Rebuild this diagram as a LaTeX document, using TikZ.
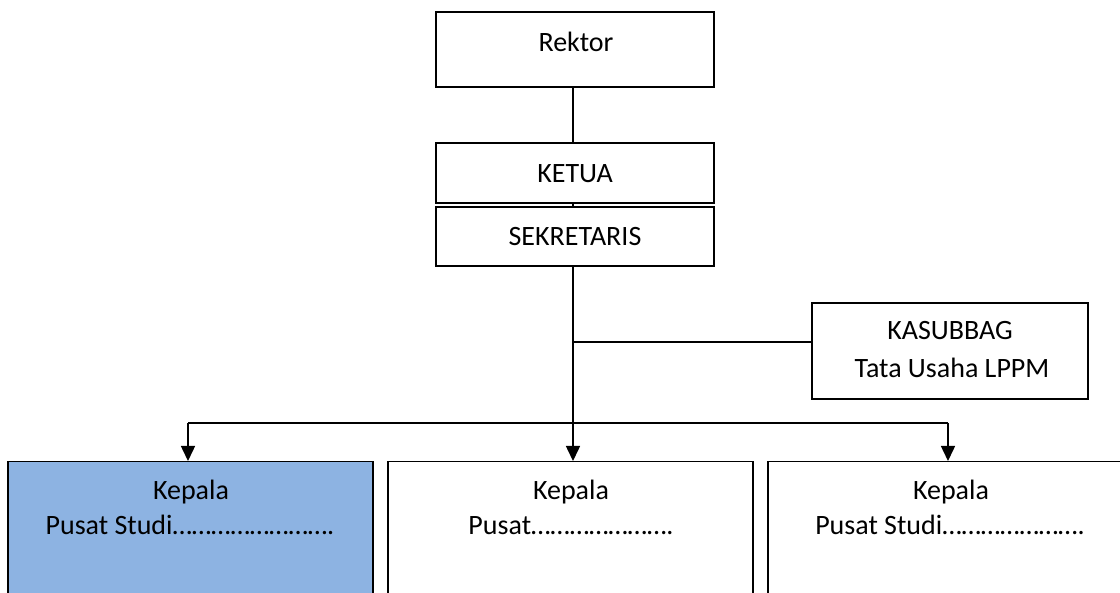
\documentclass[tikz,border=0pt]{standalone}
\usepackage{fontspec}
\setmainfont{Carlito}
\usetikzlibrary{arrows.meta}
\definecolor{boxblue}{HTML}{8DB3E2}
\begin{document}
\begin{tikzpicture}[x=1pt,y=-1pt,
  box/.style={draw=black,line width=1.5pt,inner sep=0pt,rectangle},
  lbl/.style={font=\fontsize{28}{34}\selectfont,inner sep=0pt,anchor=base},
  link/.style={line width=1.5pt},
  arr/.style={line width=1.5pt,-{Triangle[width=14pt,length=15pt]}}]
\useasboundingbox (0,0) rectangle (1120,593);
\clip (0,0) rectangle (1120,593);
% boxes
\node[box,minimum width=278pt,minimum height=75pt] (rektor) at (575,49.5) {};
\node[box,minimum width=278pt,minimum height=60pt] (ketua) at (575,173) {};
\node[box,minimum width=278pt,minimum height=59pt] (sekr) at (575,236.5) {};
\node[box,minimum width=276pt,minimum height=96pt] (kas) at (950,351) {};
\node[box,fill=boxblue,minimum width=365pt,minimum height=160pt,anchor=north] (b1) at (190.5,461) {};
\node[box,minimum width=365pt,minimum height=160pt,anchor=north] (b2) at (570.5,461) {};
\node[box,minimum width=365pt,minimum height=160pt,anchor=north] (b3) at (950.5,461) {};
% texts
\node[lbl] (tRektor) at (576,52) {Rektor};
\node[lbl] (tKetua) at (575,183) {KETUA};
\node[lbl] (tSekr) at (575,246) {SEKRETARIS};
\node[lbl] (tKasA) at (950,340) {KASUBBAG};
\node[lbl] (tKasB) at (952,378) {Tata Usaha LPPM};
\node[lbl] (t1a) at (191,500) {Kepala};
\node[lbl] (t1b) at (190,535) {Pusat Studi…………………….};
\node[lbl] (t2a) at (571,500) {Kepala};
\node[lbl] (t2b) at (571,535) {Pusat………………….};
\node[lbl] (t3a) at (951,500) {Kepala};
\node[lbl] (t3b) at (950,535) {Pusat Studi………………….};
% connectors
\coordinate (sp) at (573,0);
\coordinate (kj) at (573,342);
\coordinate (bar) at (573,423);
\draw[link] (rektor.south -| sp) -- (ketua.north -| sp);
\draw[link] (ketua.south -| sp) -- (sekr.north -| sp);
\draw[link] (kj) -- (kj -| kas.west);
\draw[arr] (sekr.south -| sp) -- (b2.north -| sp);
\draw[link] (bar -| 188,0) -- (bar -| 948,0);
\draw[arr] (bar -| 188,0) -- (b1.north -| 188,0);
\draw[arr] (bar -| 948,0) -- (b3.north -| 948,0);
\end{tikzpicture}
\end{document}
